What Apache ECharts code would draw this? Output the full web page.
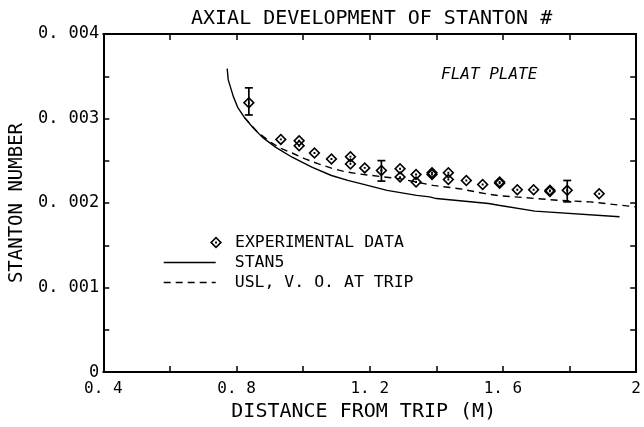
<!DOCTYPE html>
<html>
<head>
<meta charset="UTF-8">
<script src="https://cdn.jsdelivr.net/npm/echarts@6/dist/echarts.min.js"></script>
<style>
  html, body { margin: 0; padding: 0; background: #fff; }
  #chart { width: 644px; height: 427px; }
</style>
</head>
<body>
<div id="chart"></div>
<script>
// ---- data ----
var xTicks = [0.4, 0.8, 1.2, 1.6, 2];
var xTickLabels = ['0. 4', '0. 8', '1. 2', '1. 6', '2'];
var yTicks = [0, 0.001, 0.002, 0.003, 0.004];
var yTickLabels = ['0', '0. 001', '0. 002', '0. 003', '0. 004'];

// experimental data (x, Stanton number)
var expData = [
  [0.837, 0.003187], [0.933, 0.002753], [0.988, 0.002737], [0.988, 0.002678],
  [1.034, 0.002592], [1.085, 0.002522], [1.142, 0.002549], [1.142, 0.002463],
  [1.185, 0.002416], [1.235, 0.002385], [1.291, 0.002405], [1.291, 0.002307],
  [1.339, 0.002338], [1.339, 0.002249], [1.387, 0.002358], [1.387, 0.002338],
  [1.436, 0.002358], [1.436, 0.002279], [1.490, 0.002267], [1.539, 0.002220],
  [1.590, 0.002249], [1.590, 0.002235], [1.643, 0.002158], [1.692, 0.002158],
  [1.741, 0.002150], [1.741, 0.002138], [1.793, 0.002150], [1.889, 0.002111]
];

// error bars: x, low, high
var errX = [0.837, 1.235, 1.793];
var errLow = [0.003042, 0.002260, 0.002014];
var errHigh = [0.003363, 0.002502, 0.002267];

// STAN5 prediction
var stansData = [
  [0.772, 0.00359], [0.775, 0.00346], [0.790, 0.003265], [0.804, 0.003128],
  [0.824, 0.003011], [0.849, 0.002894], [0.878, 0.002777], [0.918, 0.002659],
  [0.967, 0.002542], [1.026, 0.002425], [1.085, 0.002326], [1.134, 0.002268],
  [1.173, 0.002229], [1.252, 0.002150], [1.341, 0.002091], [1.380, 0.002073],
  [1.400, 0.002053], [1.557, 0.001994], [1.587, 0.001974], [1.696, 0.001904],
  [1.950, 0.001838]
];

// USL, V.O. at trip
var uslData = [
  [0.824, 0.003011], [0.863, 0.002839], [0.903, 0.002718], [0.937, 0.002640],
  [0.967, 0.002592], [1.006, 0.002522], [1.046, 0.002463], [1.085, 0.002413],
  [1.124, 0.002373], [1.164, 0.002346], [1.291, 0.002287], [1.390, 0.002209],
  [1.469, 0.002170], [1.547, 0.002111], [1.587, 0.002088], [1.764, 0.002033],
  [1.861, 0.002014], [2.000, 0.001955]
];

var FONT = 'DejaVu Sans Mono';
// open diamond with a dot in the middle
var diamond = 'path://M5,0L10,5L5,10L0,5Z M5,1.9L1.9,5L5,8.1L8.1,5Z M4.2,4.2L5.8,4.2L5.8,5.8L4.2,5.8Z';

function tickLabel(ticks, labels) {
  return function (v) {
    for (var i = 0; i < ticks.length; i++) {
      if (Math.abs(ticks[i] - v) < 1e-9) return labels[i];
    }
    return '';
  };
}

function axisBase(extra) {
  var a = {
    type: 'value',
    axisLine: { show: true, onZero: false, lineStyle: { color: '#000', width: 2 } },
    axisTick: { show: true, inside: true, length: 6, lineStyle: { color: '#000', width: 1.5 } },
    minorTick: { show: true, splitNumber: 2, length: 6, lineStyle: { color: '#000', width: 1.5 } },
    splitLine: { show: false },
    minorSplitLine: { show: false }
  };
  for (var k in extra) a[k] = extra[k];
  return a;
}

var errData = errX.map(function (x, i) { return [x, errLow[i], errHigh[i]]; });
var legendText = { fontFamily: FONT, fontSize: 16.5, color: '#000' };

var myChart = echarts.init(document.getElementById('chart'));
myChart.setOption({
  animation: false,
  backgroundColor: '#fff',
  title: [
    {
      text: 'AXIAL DEVELOPMENT OF STANTON #',
      left: 186, top: 4,
      textStyle: { fontFamily: FONT, fontSize: 20, fontWeight: 'normal', color: '#000' }
    },
    {
      text: 'FLAT PLATE',
      left: 436, top: 62,
      textStyle: { fontFamily: FONT, fontSize: 16, fontStyle: 'italic', fontWeight: 'normal', color: '#000' }
    }
  ],
  grid: { left: 98, right: 4, top: 34, bottom: 52 },
  legend: [
    {
      data: ['EXPERIMENTAL DATA'],
      left: 210, top: 234, padding: 0,
      itemWidth: 28, itemHeight: 12,
      textStyle: legendText
    },
    {
      data: ['STAN5'],
      left: 163, top: 254, padding: 0,
      itemWidth: 52, itemHeight: 10,
      itemStyle: { opacity: 0 },
      lineStyle: { color: '#000', width: 1.4, type: 'solid' },
      textStyle: Object.assign({ padding: [0, 0, 0, 14] }, legendText)
    },
    {
      data: ['USL, V. O. AT TRIP'],
      left: 163, top: 274, padding: 0,
      itemWidth: 52, itemHeight: 10,
      itemStyle: { opacity: 0 },
      lineStyle: { color: '#000', width: 1.4, type: [7, 5] },
      textStyle: Object.assign({ padding: [0, 0, 0, 14] }, legendText)
    }
  ],
  xAxis: [
    axisBase({
      min: 0.4, max: 2, interval: 0.4, position: 'bottom',
      name: 'DISTANCE FROM TRIP (M)', nameLocation: 'middle', nameGap: 29,
      nameTextStyle: { fontFamily: FONT, fontSize: 20, color: '#000', padding: [0, 12, 0, 0] },
      axisLabel: { margin: 9, fontFamily: FONT, fontSize: 16, color: '#000',
                   formatter: tickLabel(xTicks, xTickLabels) }
    }),
    axisBase({
      min: 0.4, max: 2, interval: 0.4, position: 'top',
      axisLabel: { show: false }
    })
  ],
  yAxis: [
    axisBase({
      min: 0, max: 0.004, interval: 0.001, position: 'left',
      name: 'STANTON NUMBER', nameLocation: 'middle', nameGap: 57,
      nameTextStyle: { fontFamily: FONT, fontSize: 19, color: '#000' },
      axisLabel: { margin: 4, fontFamily: FONT, fontSize: 17, color: '#000',
                   formatter: tickLabel(yTicks, yTickLabels) }
    }),
    axisBase({
      min: 0, max: 0.004, interval: 0.001, position: 'right',
      axisLabel: { show: false }
    })
  ],
  series: [
    {
      name: 'STAN5',
      type: 'line',
      data: stansData,
      symbol: 'none',
      lineStyle: { color: '#000', width: 1.4 },
      itemStyle: { color: '#000' }
    },
    {
      name: 'USL, V. O. AT TRIP',
      type: 'line',
      data: uslData,
      symbol: 'none',
      lineStyle: { color: '#000', width: 1.4, type: [7, 5] },
      itemStyle: { color: '#000' }
    },
    {
      name: 'EXPERIMENTAL DATA',
      type: 'scatter',
      data: expData,
      symbol: diamond,
      symbolSize: 12,
      itemStyle: { color: '#000', opacity: 1 },
      z: 5
    },
    {
      name: 'error',
      type: 'custom',
      data: errData,
      encode: { x: 0, y: [1, 2] },
      z: 6,
      renderItem: function (params, api) {
        var lo = api.coord([api.value(0), api.value(1)]);
        var hi = api.coord([api.value(0), api.value(2)]);
        var w = 4;
        var st = { stroke: '#000', lineWidth: 1.7 };
        return {
          type: 'group',
          children: [
            { type: 'line', shape: { x1: lo[0], y1: lo[1], x2: hi[0], y2: hi[1] }, style: st },
            { type: 'line', shape: { x1: lo[0] - w, y1: lo[1], x2: lo[0] + w, y2: lo[1] }, style: st },
            { type: 'line', shape: { x1: hi[0] - w, y1: hi[1], x2: hi[0] + w, y2: hi[1] }, style: st }
          ]
        };
      }
    }
  ]
});
</script>
</body>
</html>
